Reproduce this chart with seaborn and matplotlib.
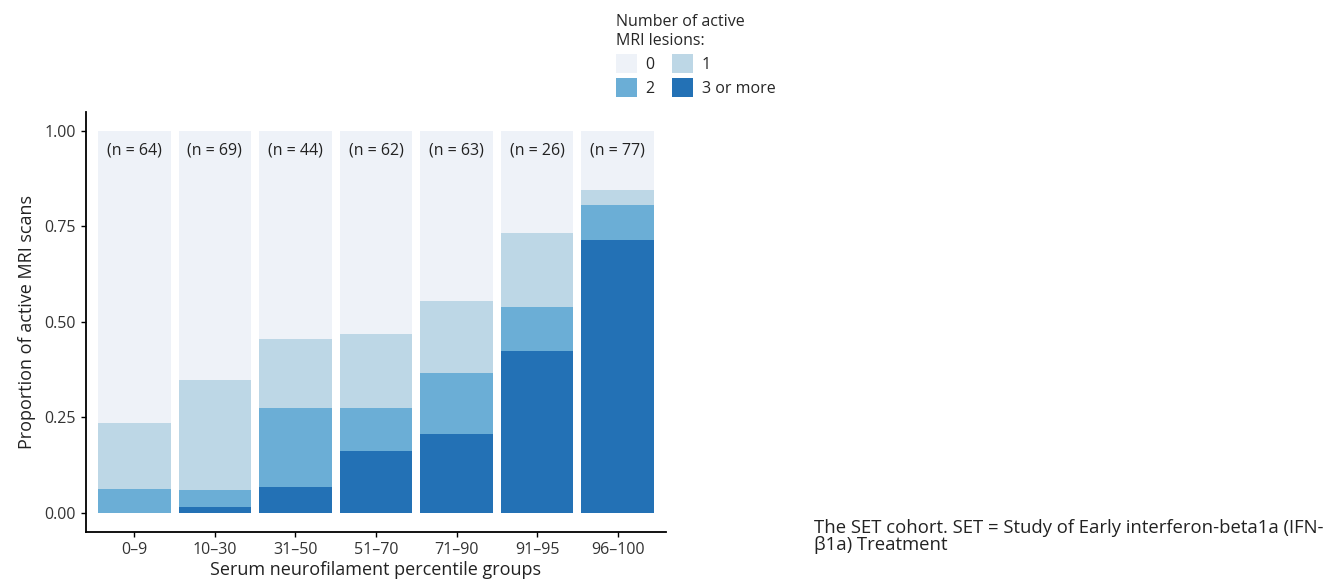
import numpy as np
import pandas as pd
import matplotlib
matplotlib.use("Agg")
import matplotlib.pyplot as plt
import seaborn as sns
from matplotlib.patches import Patch

# percentile groups and sample sizes
groups = ["0\u20139", "10\u201330", "31\u201350", "51\u201370", "71\u201390", "91\u201395", "96\u2013100"]
n_scans = [64, 69, 44, 62, 63, 26, 77]

# proportion of scans per number of active lesions
lesions_3plus = [0.000, 0.014, 0.068, 0.161, 0.206, 0.423, 0.714]
lesions_2 = [0.062, 0.044, 0.205, 0.113, 0.159, 0.115, 0.091]
lesions_1 = [0.172, 0.290, 0.182, 0.194, 0.190, 0.193, 0.039]

level_labels = ["0", "1", "2", "3 or more"]
level_colors = ["#EEF2F8", "#BDD7E6", "#6BAED6", "#2371B5"]

df = pd.DataFrame({"group": groups, "n": n_scans,
                   "p3": lesions_3plus, "p2": lesions_2, "p1": lesions_1})
df["p0"] = 1 - df["p1"] - df["p2"] - df["p3"]

# cumulative heights, drawn from the tallest layer down
df["c0"] = df["p0"] + df["p1"] + df["p2"] + df["p3"]
df["c1"] = df["p1"] + df["p2"] + df["p3"]
df["c2"] = df["p2"] + df["p3"]
df["c3"] = df["p3"]

sns.set_style("white")
plt.rcParams["font.family"] = ["Open Sans", "DejaVu Sans"]

fig = plt.figure(figsize=(13.25, 5.86), dpi=100)
ax = fig.add_axes([0.0649, 0.0927, 0.4377, 0.7167])

for col, color in zip(["c0", "c1", "c2", "c3"], level_colors):
    sns.barplot(data=df, x="group", y=col, color=color, width=0.9,
                saturation=1, linewidth=0, ax=ax)

for i, n in enumerate(df["n"]):
    ax.text(i, 0.949, f"(n = {n})", ha="center", va="center", fontsize=11.5, color="#222222")

ax.set_ylim(-0.05, 1.05)
ax.set_xlim(-0.6, 6.6)
ax.set_yticks([0, 0.25, 0.5, 0.75, 1.0])
ax.set_yticklabels(["0.00", "0.25", "0.50", "0.75", "1.00"])
ax.tick_params(axis="both", labelsize=11.5, length=3.5, width=1, colors="black",
               labelcolor="#333333", direction="out", pad=4, bottom=True, left=True)
ax.set_xlabel("Serum neurofilament percentile groups", fontsize=13, color="#222222", labelpad=2)
ax.set_ylabel("Proportion of active MRI scans", fontsize=13, color="#222222", labelpad=6)
sns.despine(ax=ax)
for s in ["left", "bottom"]:
    ax.spines[s].set_color("black")
    ax.spines[s].set_linewidth(1.3)

# legend fills row by row: 0, 1 / 2, 3 or more
order = [0, 2, 1, 3]
handles = [Patch(facecolor=level_colors[k], edgecolor="none", label=level_labels[k]) for k in order]
leg = fig.legend(handles=handles, ncol=2, loc="upper left", bbox_to_anchor=(0.454, 1.0),
                 title="Number of active\nMRI lesions:", frameon=False, fontsize=11.5,
                 title_fontsize=11.5, handlelength=1.3, handleheight=1.4,
                 columnspacing=1.1, handletextpad=0.55, labelspacing=0.35)
leg._legend_box.align = "left"

fig.text(0.614, 0.114, "The SET cohort. SET = Study of Early interferon-beta1a (IFN-\n\u03b21a) Treatment",
         fontsize=13.3, va="top", ha="left", color="#222222", linespacing=0.95)

fig.savefig("out.png", dpi=100)
